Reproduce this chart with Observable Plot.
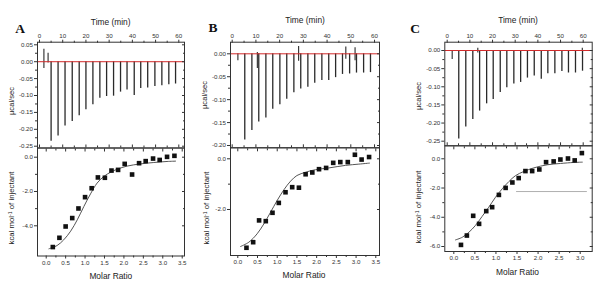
<!DOCTYPE html>
<html><head><meta charset="utf-8">
<script src="https://cdn.jsdelivr.net/npm/d3@7"></script>
<script src="https://cdn.jsdelivr.net/npm/@observablehq/plot@0.6"></script>
<style>
body{margin:0;background:#fff;}
#root{position:relative;width:603px;height:288px;overflow:hidden;font-family:Arial,"Liberation Sans",sans-serif;background:#fff;}
#root svg{position:absolute;left:0;top:0;}
.lbl{position:absolute;white-space:nowrap;color:#222;transform:translate(-50%,-50%);line-height:1;}
.rot{transform:translate(-50%,-50%) rotate(-90deg);}
.letter{font-family:"Liberation Serif","DejaVu Serif",serif;font-weight:bold;font-size:13.5px;color:#111;}
</style></head><body><div id="root"></div><script>
// ---- tick labels ----
const timeTicks = [0,10,20,30,40,50,60];
const heatTicksA = [0.05,0,-0.05,-0.1,-0.15,-0.2,-0.25];
const heatTicksB = [0,-0.05,-0.1,-0.15,-0.2];
const heatTicksC = [0,-0.05,-0.1,-0.15,-0.2,-0.25];
const ratioTicksAB = [0,0.5,1,1.5,2,2.5,3,3.5];
const ratioTicksC = [0,0.5,1,1.5,2,2.5,3];
const enthTicksA = [0,-2,-4];
const enthTicksB = [0,-2];
const enthTicksC = [0,-2,-4,-6];

// ---- panel A ----
const injTimesA = [5.0,8.0,11.0,14.1,17.1,20.0,23.0,26.0,28.9,31.9,34.9,37.7,40.8,43.6,46.6,49.7,52.7,55.7,58.6];
const peaksA = [-0.235,-0.22,-0.19,-0.177,-0.16,-0.142,-0.127,-0.108,-0.103,-0.102,-0.09,-0.084,-0.10,-0.079,-0.078,-0.073,-0.071,-0.068,-0.066];
const noiseA = [{t:1.9,lo:-0.02,hi:0.037},{t:3.7,lo:-0.004,hi:0.025}];
const ratioA = [0.17,0.34,0.50,0.67,0.83,1.00,1.17,1.33,1.51,1.68,1.85,2.02,2.21,2.39,2.56,2.75,2.92,3.11,3.30];
const enthA = [-5.24,-4.70,-4.04,-3.55,-2.99,-2.33,-1.81,-1.18,-1.20,-0.78,-0.74,-0.39,-1.01,-0.35,-0.23,-0.08,-0.16,0.02,0.08];
const fitXA = [0.07,0.28,0.45,0.63,0.80,0.97,1.14,1.31,1.48,1.66,1.83,2.08,2.43,2.77,3.11,3.33];
const fitYA = [-5.34,-5.15,-4.82,-4.31,-3.65,-2.87,-2.14,-1.51,-1.13,-0.87,-0.70,-0.52,-0.39,-0.31,-0.25,-0.23];

// ---- panel B ----
const injTimesB = [5.3,8.3,11.2,14.2,17.1,20.1,23.0,26.0,28.9,31.9,34.8,37.8,40.7,43.6,46.5,49.5,52.4,55.4,58.3];
const peaksB = [-0.188,-0.167,-0.149,-0.14,-0.121,-0.111,-0.099,-0.085,-0.077,-0.073,-0.064,-0.058,-0.058,-0.052,-0.045,-0.044,-0.042,-0.042,-0.041];
const noiseB = [{t:2.4,lo:-0.015,hi:0},{t:10.6,lo:-0.032,hi:0.003},{t:28.0,lo:-0.016,hi:0.016},{t:47.9,lo:-0.012,hi:0.015},{t:51.8,lo:-0.015,hi:0.013}];
const ratioB = [0.22,0.39,0.54,0.71,0.88,1.04,1.21,1.38,1.55,1.72,1.89,2.06,2.24,2.42,2.60,2.79,2.97,3.14,3.33];
const enthB = [-3.51,-3.29,-2.43,-2.46,-2.13,-1.74,-1.32,-1.12,-1.14,-0.61,-0.54,-0.41,-0.36,-0.16,-0.13,-0.13,0.16,-0.03,0.07];
const fitXB = [0.07,0.28,0.49,0.66,0.83,1.00,1.17,1.34,1.50,1.72,1.97,2.31,2.73,3.07,3.34];
const fitYB = [-3.46,-3.29,-2.96,-2.57,-2.11,-1.64,-1.22,-0.88,-0.66,-0.53,-0.43,-0.36,-0.26,-0.21,-0.17];

// ---- panel C ----
const injTimesC = [5.1,8.2,11.3,14.3,17.4,20.3,23.4,26.3,29.4,32.4,35.4,38.4,41.5,44.4,47.5,50.6,53.5,56.6,59.7];
const peaksC = [-0.244,-0.211,-0.19,-0.167,-0.147,-0.135,-0.116,-0.103,-0.092,-0.088,-0.076,-0.07,-0.079,-0.064,-0.064,-0.058,-0.062,-0.062,-0.057];
const noiseC = [{t:2.2,lo:-0.025,hi:0},{t:13.5,lo:-0.007,hi:0.006},{t:59.6,lo:0,hi:0.006}];
const ratioC = [0.17,0.31,0.46,0.60,0.77,0.91,1.07,1.23,1.39,1.54,1.70,1.86,2.03,2.19,2.37,2.53,2.71,2.87,3.04];
const enthC = [-5.89,-5.25,-3.90,-4.45,-3.58,-3.31,-2.47,-1.99,-1.62,-1.32,-0.84,-0.84,-0.73,-0.23,-0.18,-0.05,0.02,-0.11,0.39];
const fitXC = [0.04,0.20,0.36,0.51,0.67,0.83,0.99,1.15,1.31,1.46,1.66,1.90,2.22,2.53,2.85,3.05];
const fitYC = [-5.55,-5.37,-5.02,-4.57,-3.95,-3.31,-2.63,-2.05,-1.55,-1.16,-0.87,-0.62,-0.41,-0.32,-0.25,-0.23];
const refLineC = [{y:-2.24, x1:1.49, x2:3.17}];

const W = 603, H = 288;
const fmt2 = d => d.toFixed(2), fmt1 = d => d.toFixed(1);
const mids = a => a.slice(1).map((v,i)=>(v+a[i])/2);
const INK = "#333";
const FS = 6.2;

function ticksOnly(dim, anchor, values, size, inward){
  const o = {anchor, tickSize:size, tickFormat:()=>"", label:null, stroke:INK};
  if (inward){
    if (anchor==="left") o.dx = size;
    if (anchor==="right") o.dx = -size;
    if (anchor==="top") o.dy = size;
    if (anchor==="bottom") o.dy = -size;
  }
  return dim==="x" ? Plot.axisX(values,o) : Plot.axisY(values,o);
}
function labeled(dim, anchor, values, fmt){
  const o = {anchor, tickSize:3, tickPadding:1.5, tickFormat:fmt, fontSize:FS, label:null, stroke:INK, fill:"#333"};
  return dim==="x" ? Plot.axisX(values,o) : Plot.axisY(values,o);
}
function base(frame, xDomain, yDomain, marks){
  const [l,t,r,b] = frame;
  return Plot.plot({
    width:W, height:H, marginLeft:l, marginRight:W-r, marginTop:t, marginBottom:H-b,
    x:{domain:xDomain, axis:null}, y:{domain:yDomain, axis:null},
    style:{background:"transparent", color:"#333", fontFamily:"Arial, 'Liberation Sans', sans-serif", overflow:"visible"},
    marks
  });
}
function topPanel(frame, xDomain, yDomain, times, peaks, noise, yTicks){
  const inj = times.map((t,i)=>({t, peak:peaks[i]}));
  const minorX = mids(timeTicks);
  const minorY = mids(yTicks);
  return base(frame, xDomain, yDomain, [
    Plot.ruleX(inj, {x:"t", y1:0, y2:"peak", stroke:"#2a2a2a", strokeWidth:1.3}),
    Plot.ruleX(noise, {x:"t", y1:"lo", y2:"hi", stroke:"#2a2a2a", strokeWidth:1.1}),
    Plot.ruleY([0], {stroke:"#d22b2b", strokeWidth:1}),
    Plot.frame({stroke:INK, strokeWidth:1}),
    labeled("x","top",timeTicks,d=>String(d)),
    ticksOnly("x","top",minorX,2,false),
    ticksOnly("x","bottom",timeTicks,3,true),
    ticksOnly("x","bottom",minorX,2,true),
    labeled("y","left",yTicks,fmt2),
    ticksOnly("y","left",minorY,2,false),
    ticksOnly("y","right",yTicks,3,true),
    ticksOnly("y","right",minorY,2,true)
  ]);
}
function bottomPanel(frame, xDomain, yDomain, rx, ry, fx, fy, xTicks, yTicks, extra){
  const pts = rx.map((x,i)=>({x, y:ry[i]}));
  const fit = fx.map((x,i)=>({x, y:fy[i]}));
  const minorX = mids(xTicks);
  const minorY = mids(yTicks);
  return base(frame, xDomain, yDomain, [
    ...(extra || []),
    Plot.line(fit, {x:"x", y:"y", curve:"catmull-rom", stroke:"#555", strokeWidth:1}),
    Plot.dot(pts, {x:"x", y:"y", symbol:"square", r:2.6, fill:"#111", stroke:"none"}),
    Plot.frame({stroke:INK, strokeWidth:1}),
    labeled("x","bottom",xTicks,fmt1),
    ticksOnly("x","bottom",minorX,2,false),
    ticksOnly("x","top",xTicks,3,true),
    ticksOnly("x","top",minorX,2,true),
    labeled("y","left",yTicks,fmt1),
    ticksOnly("y","left",minorY,2,false),
    ticksOnly("y","right",yTicks,3,true),
    ticksOnly("y","right",minorY,2,true)
  ]);
}

const root = document.getElementById("root");
root.append(
  topPanel([37,41.7,184,147.5], [-0.86,62.45], [-0.2553,0.0577], injTimesA, peaksA, noiseA, heatTicksA),
  bottomPanel([37,147.5,184,255.5], [-0.224,3.559], [-5.761,0.536], ratioA, enthA, fitXA, fitYA, ratioTicksAB, enthTicksA),
  topPanel([230,41.7,379,147.3], [-0.717,62.1], [-0.205,0.0253], injTimesB, peaksB, noiseB, heatTicksB),
  bottomPanel([230,147.3,379,255], [-0.185,3.594], [-3.815,0.434], ratioB, enthB, fitXB, fitYB, ratioTicksAB, enthTicksB),
  topPanel([444.3,41.7,591.7,145.3], [-1.06,63.97], [-0.2627,0.0229], injTimesC, peaksC, noiseC, heatTicksC),
  bottomPanel([444.3,145.3,591.7,251], [-0.214,3.285], [-6.342,0.889], ratioC, enthC, fitXC, fitYC, ratioTicksC, enthTicksC,
    [Plot.ruleY(refLineC, {y:"y", x1:"x1", x2:"x2", stroke:"#9a9a9a", strokeWidth:0.8})])
);

function label(html, x, y, size, cls){
  const d = document.createElement("div");
  d.className = "lbl" + (cls ? " " + cls : "");
  d.style.left = x + "px"; d.style.top = y + "px";
  if (size) d.style.fontSize = size + "px";
  d.innerHTML = html;
  root.append(d);
}
const kcal = 'kcal mol<sup style="font-size:0.65em;vertical-align:0.45em">-1</sup> of injectant';
const panels = [
  {letter:"A", lx:20, ly:29, tx:110.7, ty:21.7, ux:12, uy:101, kx:12, ky:208, mx:110.8, my:275.7},
  {letter:"B", lx:213, ly:27.5, tx:305, ty:19.7, ux:205, uy:95, kx:206.5, ky:208, mx:304, my:275},
  {letter:"C", lx:415, ly:29, tx:518, ty:19.5, ux:419, uy:96, kx:419, ky:207, mx:517.5, my:272}
];
for (const p of panels){
  label(p.letter, p.lx, p.ly, null, "letter");
  label("Time (min)", p.tx, p.ty, 8.4);
  label("µcal/sec", p.ux, p.uy, 7.6, "rot");
  label(kcal, p.kx, p.ky, 7.8, "rot");
  label("Molar Ratio", p.mx, p.my, 8.4);
}
</script></body></html>
